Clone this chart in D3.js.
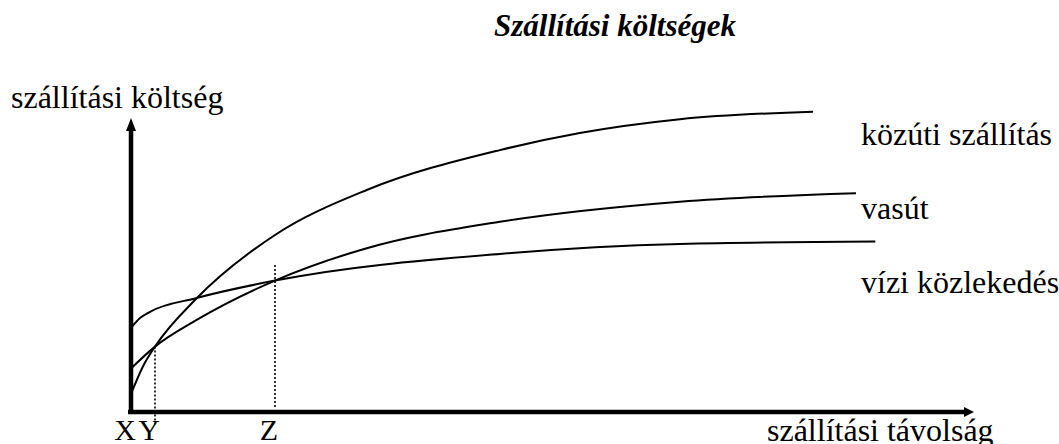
<!DOCTYPE html>
<html>
<head>
<meta charset="utf-8">
<script src="https://cdn.jsdelivr.net/npm/d3@7"></script>
<style>
  html, body { margin: 0; padding: 0; background: #fff; }
  svg { display: block; font-family: "Liberation Serif", "Times New Roman", serif; }
</style>
</head>
<body>
<div id="chart"></div>
<script>
// distance (0-100) and cost (0-100) readings for each mode
const roadX  = [0, 1.4, 2.85, 7.8, 17.1, 28, 43.8, 53.3, 65.2, 81];
const roadY  = [6, 15.1, 21.8, 37.9, 59, 74, 87.3, 93, 97.6, 100.1];
const railX  = [0, 2.85, 7.8, 17.1, 28, 43.8, 65.2, 86.1];
const railY  = [14.5, 21.8, 30.7, 43.8, 54.6, 63.4, 70.1, 72.9];
const waterX = [0, 1.07, 2.26, 7.8, 17.1, 43.8, 65.2, 88.4];
const waterY = [28, 31.3, 33.4, 38, 43.8, 52.7, 56, 56.8];

const seriesNames = ['közúti szállítás', 'vasút', 'vízi közlekedés'];
const markNames = ['X', 'Y', 'Z'];
const markX = [0, 2.85, 17.1];
const markY = [null, 21.8, 43.8];

const title = 'Szállítási költségek';
const yTitle = 'szállítási költség';
const xTitle = 'szállítási távolság';

const W = 1059, H = 444;

const svg = d3.select('#chart').append('svg')
    .attr('width', W)
    .attr('height', H);

const x = d3.scaleLinear().domain([0, 100]).range([131, 973]);
const y = d3.scaleLinear().domain([0, 100]).range([412, 112]);

// title
svg.append('text')
    .text(title)
    .attr('x', 615)
    .attr('y', 36)
    .attr('text-anchor', 'middle')
    .style('font-size', '31px')
    .style('font-weight', 'bold')
    .style('font-style', 'italic');

// axes with arrows
svg.append('line')
    .attr('x1', x(0)).attr('y1', y(0) + 2)
    .attr('x2', x(0)).attr('y2', 129)
    .attr('stroke', '#000')
    .attr('stroke-width', 4.5);
svg.append('path')
    .attr('d', `M${x(0)},118 L${x(0) - 5},131 L${x(0) + 5},131 Z`)
    .attr('fill', '#000');

svg.append('line')
    .attr('x1', x(0) - 3).attr('y1', y(0))
    .attr('x2', 965).attr('y2', y(0))
    .attr('stroke', '#000')
    .attr('stroke-width', 4.5);
svg.append('path')
    .attr('d', `M974,${y(0)} L964,${y(0) - 5} L964,${y(0) + 5} Z`)
    .attr('fill', '#000');

// dotted guide lines at Y and Z
svg.selectAll('.guide')
    .data([1, 2])
    .enter()
    .append('line')
    .attr('class', 'guide')
    .attr('x1', i => x(markX[i]))
    .attr('x2', i => x(markX[i]))
    .attr('y1', i => i === 2 ? 265 : y(markY[i]))
    .attr('y2', i => i === 1 ? 425 : 407)
    .attr('stroke', '#000')
    .attr('stroke-width', 1.6)
    .attr('stroke-dasharray', '2,2');

// curves
const line = d3.line()
    .x(d => x(d[0]))
    .y(d => y(d[1]))
    .curve(d3.curveMonotoneX);

const series = [
    d3.zip(roadX, roadY),
    d3.zip(railX, railY),
    d3.zip(waterX, waterY)
];

svg.selectAll('.curve')
    .data(series)
    .enter()
    .append('path')
    .attr('class', 'curve')
    .attr('d', line)
    .attr('fill', 'none')
    .attr('stroke', '#000')
    .attr('stroke-width', 2);

// series labels on the right
const labelY = [145, 219, 293];
svg.selectAll('.series-label')
    .data(seriesNames)
    .enter()
    .append('text')
    .attr('class', 'series-label')
    .text(d => d)
    .attr('x', 861)
    .attr('y', (d, i) => labelY[i])
    .style('font-size', '32px');

// axis titles
svg.append('text')
    .text(yTitle)
    .attr('x', 11)
    .attr('y', 108)
    .style('font-size', '32px');

svg.append('text')
    .text(xTitle)
    .attr('x', 767)
    .attr('y', 441)
    .style('font-size', '32px');

// X, Y, Z markers under the axis
svg.selectAll('.mark')
    .data(markNames)
    .enter()
    .append('text')
    .attr('class', 'mark')
    .text(d => d)
    .attr('x', (d, i) => x(markX[i]) - 6)
    .attr('y', 440)
    .attr('text-anchor', 'middle')
    .style('font-size', '30px');
</script>
</body>
</html>
